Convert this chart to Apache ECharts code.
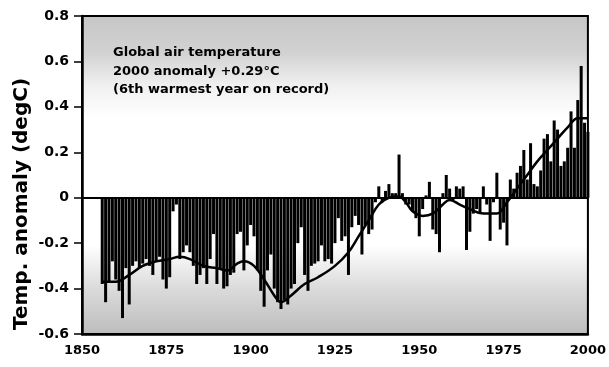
<!DOCTYPE html>
<html><head><meta charset="utf-8">
<script src="https://cdn.jsdelivr.net/npm/echarts@6/dist/echarts.min.js"></script>
<style>html,body{margin:0;padding:0;background:#fff}#c{width:609px;height:367px}</style>
</head><body><div id="c"></div>
<script>
// Annual global air temperature anomalies (degC), 1856-2000
const years = [];
for (let y = 1856; y <= 2000; y++) years.push(y);
const anomalies = [
 -0.38,-0.46,-0.37,-0.28,-0.36,-0.41,-0.53,-0.31,-0.47,-0.30, // 1856-1865
 -0.28,-0.31,-0.29,-0.27,-0.30,-0.34,-0.28,-0.26,-0.36,-0.40, // 1866-1875
 -0.35,-0.06,-0.03,-0.27,-0.24,-0.21,-0.24,-0.30,-0.38,-0.34, // 1876-1885
 -0.31,-0.38,-0.27,-0.16,-0.38,-0.31,-0.40,-0.39,-0.34,-0.33, // 1886-1895
 -0.16,-0.15,-0.32,-0.21,-0.12,-0.17,-0.32,-0.41,-0.48,-0.32, // 1896-1905
 -0.25,-0.40,-0.46,-0.49,-0.45,-0.47,-0.40,-0.38,-0.20,-0.13, // 1906-1915
 -0.34,-0.41,-0.30,-0.29,-0.28,-0.21,-0.28,-0.27,-0.29,-0.20, // 1916-1925
 -0.09,-0.19,-0.17,-0.34,-0.13,-0.08,-0.12,-0.25,-0.12,-0.16, // 1926-1935
 -0.14,-0.02, 0.05,-0.02, 0.03, 0.06, 0.02, 0.02, 0.19, 0.02, // 1936-1945
 -0.03,-0.03,-0.06,-0.09,-0.17,-0.05, 0.01, 0.07,-0.14,-0.16, // 1946-1955
 -0.24, 0.02, 0.10, 0.04,-0.01, 0.05, 0.04, 0.05,-0.23,-0.15, // 1956-1965
 -0.07,-0.05,-0.07, 0.05,-0.03,-0.19,-0.02, 0.11,-0.14,-0.11, // 1966-1975
 -0.21, 0.08, 0.04, 0.11, 0.14, 0.21, 0.08, 0.24, 0.06, 0.05, // 1976-1985
  0.12, 0.26, 0.28, 0.16, 0.34, 0.30, 0.14, 0.16, 0.22, 0.38, // 1986-1995
  0.22, 0.43, 0.58, 0.33, 0.29                                 // 1996-2000
];
// Smoothed curve
const smoothYears = [1856,1860,1864,1868,1872,1876,1879,1882,1886,1890,1893,1896,1898,1901,1904,1907,1909,1912,1916,1920,1925,1929,1932,1935,1938,1941,1944,1946,1948,1951,1954,1957,1959,1962,1965,1969,1973,1976,1979,1982,1985,1988,1991,1994,1997,2000];
const smoothValues = [-0.37,-0.37,-0.34,-0.30,-0.28,-0.27,-0.26,-0.27,-0.30,-0.31,-0.32,-0.29,-0.28,-0.30,-0.36,-0.43,-0.46,-0.43,-0.38,-0.35,-0.30,-0.24,-0.17,-0.10,-0.03,0.0,0.005,-0.02,-0.06,-0.08,-0.07,-0.03,-0.01,-0.03,-0.05,-0.07,-0.07,-0.02,0.04,0.10,0.16,0.21,0.26,0.31,0.35,0.35];
const yTicks = [-0.6,-0.4,-0.2,0,0.2,0.4,0.6,0.8];
const xTicks = [1850,1875,1900,1925,1950,1975,2000];
const annotation = ['Global air temperature','2000 anomaly +0.29\u00B0C','(6th warmest year on record)'];
const yTitle = 'Temp. anomaly (degC)';

const FONT = 'DejaVu Sans';
const chart = echarts.init(document.getElementById('c'), null, {renderer:'canvas'});
chart.setOption({
  animation:false,
  backgroundColor:'#fff',
  grid:{left:82,right:15,top:16,bottom:33,show:true,borderColor:'#000',borderWidth:2,
    backgroundColor:{type:'linear',x:0,y:0,x2:0,y2:1,colorStops:[
      {offset:0,color:'#c6c6c6'},{offset:0.12,color:'#d2d2d2'},{offset:0.22,color:'#f0f0f0'},
      {offset:0.32,color:'#ffffff'},{offset:0.72,color:'#ffffff'},{offset:0.85,color:'#dcdcdc'},{offset:1,color:'#bcbcbc'}]}},
  xAxis:{type:'value',min:xTicks[0],max:xTicks[xTicks.length-1],interval:25,
    axisLine:{show:true,onZero:false,lineStyle:{color:'#000',width:2.5}},
    axisTick:{show:false},splitLine:{show:false},
    axisLabel:{color:'#000',fontFamily:FONT,fontWeight:'bold',fontSize:13,margin:10,formatter:v=>String(v)}},
  yAxis:{type:'value',min:yTicks[0],max:yTicks[yTicks.length-1],interval:0.2,
    axisLine:{show:true,lineStyle:{color:'#000',width:2.5}},
    axisTick:{show:true,length:8,lineStyle:{color:'#000',width:1.5}},
    splitLine:{show:false},
    axisLabel:{color:'#000',fontFamily:FONT,fontWeight:'bold',fontSize:14,margin:13,
      formatter:v=>Math.abs(v)<1e-9?'0':v.toFixed(1)}},
  graphic:[
    {type:'text',x:22,y:204,rotation:Math.PI/2,style:{text:yTitle,fill:'#000',font:'bold 20px "DejaVu Sans"',textAlign:'center',textVerticalAlign:'middle'}},
    {type:'text',x:113,y:53,style:{text:annotation[0],fill:'#000',font:'bold 13px "DejaVu Sans"',textVerticalAlign:'middle'}},
    {type:'text',x:113,y:72,style:{text:annotation[1],fill:'#000',font:'bold 13px "DejaVu Sans"',textVerticalAlign:'middle'}},
    {type:'text',x:113,y:90,style:{text:annotation[2],fill:'#000',font:'bold 13px "DejaVu Sans"',textVerticalAlign:'middle'}}
  ],
  series:[
    {type:'bar',data:years.map((y,i)=>[y,anomalies[i]]),barWidth:3,itemStyle:{color:'#000'},
      markLine:{silent:true,symbol:'none',label:{show:false},lineStyle:{color:'#000',width:2,type:'solid'},data:[{yAxis:0}]}},
    {type:'line',data:smoothYears.map((y,i)=>[y,smoothValues[i]]),smooth:0.4,showSymbol:false,
      lineStyle:{color:'#000',width:2.5},z:5}
  ]
});
</script></body></html>
